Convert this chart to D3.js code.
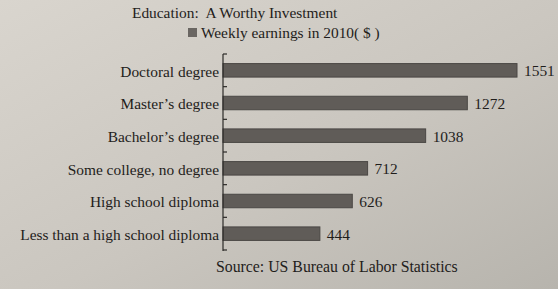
<!DOCTYPE html>
<html>
<head>
<meta charset="utf-8">
<script src="https://cdn.jsdelivr.net/npm/d3@7"></script>
<style>
  body { margin: 0; background: #c9c5be; }
  svg { display: block; }
  text { font-family: "Liberation Serif", "Times New Roman", serif; fill: #1f1d1b; }
</style>
</head>
<body>
<div id="root"></div>
<script>
//DATA
const categories = [
  "Doctoral degree",
  "Master\u2019s degree",
  "Bachelor\u2019s degree",
  "Some college, no degree",
  "High school diploma",
  "Less than a high school diploma"
];
const earnings = [1551, 1272, 1038, 712, 626, 444];
const titleText = "Education:\u00a0 A Worthy Investment";
const legendText = "Weekly earnings in 2010( $ )";
const sourceText = "Source: US Bureau of Labor Statistics";

//DIMENSIONS
let width = 558;
let height = 289;
let axisX = 223;
let fs = 15.4;

//CREATE SVG
let svg = d3.select('#root')
  .append('svg')
  .attr('width', width)
  .attr('height', height);

//PAPER BACKGROUND
let defs = svg.append('defs');
let grad = defs.append('linearGradient')
  .attr('id', 'paper')
  .attr('x1', '0%').attr('y1', '0%')
  .attr('x2', '100%').attr('y2', '100%');
grad.append('stop').attr('offset', '0%').attr('stop-color', '#d9d5ce');
grad.append('stop').attr('offset', '55%').attr('stop-color', '#cac6bf');
grad.append('stop').attr('offset', '100%').attr('stop-color', '#b7b4ad');

svg.append('rect')
  .attr('width', width)
  .attr('height', height)
  .attr('fill', 'url(#paper)');

//SCALES
// the printed bars are not quite proportional, so the domain starts below zero
let x = d3.scaleLinear()
  .domain([-100, 1551])
  .range([axisX, 517]);

let y = d3.scaleBand()
  .domain(categories)
  .range([54, 250]);

let barH = 13.5;

//BARS
svg.append('g')
  .selectAll('rect')
  .data(categories)
  .join('rect')
  .attr('x', axisX)
  .attr('y', d => y(d) + y.bandwidth() / 2 - barH / 2)
  .attr('width', (d, i) => x(earnings[i]) - axisX)
  .attr('height', barH)
  .attr('fill', '#605c58')
  .attr('stroke', '#4a4744')
  .attr('stroke-width', 1);

//VALUE LABELS
svg.append('g')
  .selectAll('text')
  .data(categories)
  .join('text')
  .attr('x', (d, i) => x(earnings[i]) + 7)
  .attr('y', d => y(d) + y.bandwidth() / 2)
  .attr('dy', '0.38em')
  .attr('font-size', fs)
  .text((d, i) => earnings[i]);

//CATEGORY LABELS
svg.append('g')
  .selectAll('text')
  .data(categories)
  .join('text')
  .attr('x', axisX - 4)
  .attr('y', d => y(d) + y.bandwidth() / 2)
  .attr('dy', '0.42em')
  .attr('text-anchor', 'end')
  .attr('font-size', fs)
  .text(d => d);

//AXIS LINE + TICKS AT BAND EDGES
let edges = categories.map(d => y(d)).concat([y.range()[1]]);
let axis = svg.append('g')
  .attr('stroke', '#2c2a28')
  .attr('stroke-width', 1.2);
axis.append('line')
  .attr('x1', axisX).attr('x2', axisX)
  .attr('y1', y.range()[0]).attr('y2', y.range()[1] + 1);
axis.selectAll('.tick')
  .data(edges)
  .join('line')
  .attr('class', 'tick')
  .attr('x1', axisX).attr('x2', axisX + 4)
  .attr('y1', d => d).attr('y2', d => d);

//TITLE + LEGEND
svg.append('text')
  .attr('x', 132)
  .attr('y', 18)
  .attr('font-size', fs)
  .text(titleText);

svg.append('rect')
  .attr('x', 188)
  .attr('y', 28)
  .attr('width', 9)
  .attr('height', 9)
  .attr('fill', '#6a6662');

svg.append('text')
  .attr('x', 201)
  .attr('y', 38)
  .attr('font-size', fs)
  .text(legendText);

//SOURCE
svg.append('text')
  .attr('x', 216)
  .attr('y', 272)
  .attr('font-size', 15.8)
  .text(sourceText);
</script>
</body>
</html>
